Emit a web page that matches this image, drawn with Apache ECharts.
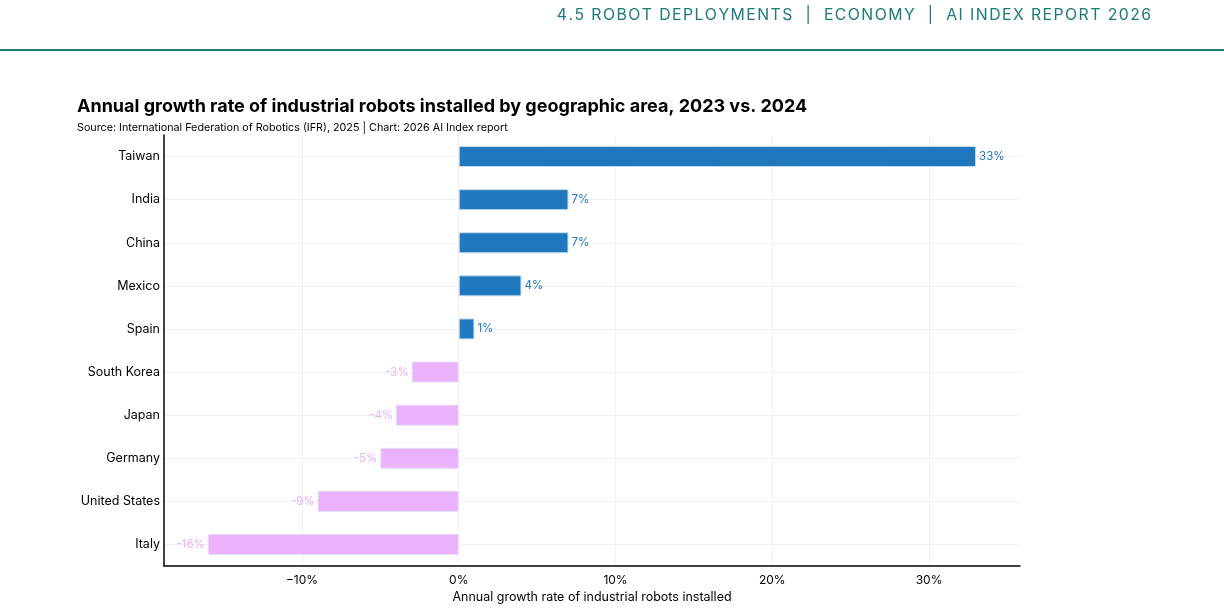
<!DOCTYPE html>
<html>
<head>
    <meta charset="utf-8">
    <title>Annual growth rate of industrial robots</title>
    <script src="https://cdn.jsdelivr.net/npm/echarts@6/dist/echarts.min.js"></script>
    <style>
        html, body { margin: 0; padding: 0; background: #fff; }
        #chart { width: 1224px; height: 609px; }
    </style>
</head>
<body>
<div id="chart"></div>
<script type="text/javascript">
    // categories, bottom to top (category axis starts at the bottom)
    var countries = ['Italy', 'United States', 'Germany', 'Japan', 'South Korea', 'Spain', 'Mexico', 'China', 'India', 'Taiwan'];
    var growth = [-16, -9, -5, -4, -3, 1, 4, 7, 7, 33];
    var xTicks = [-10, 0, 10, 20, 30];

    var blue = '#1f77bd';
    var pink = '#ebb2fb';

    var myChart = echarts.init(document.getElementById('chart'));
    var font = 'Inter, "Noto Sans", sans-serif';

    // header letter spacing: hair spaces between characters
    var header = '4.5 ROBOT DEPLOYMENTS  |  ECONOMY  |  AI INDEX REPORT 2026'.split('').join('\u200A');

    myChart.setOption({
        animation: false,
        textStyle: { fontFamily: font },
        title: [{
            text: header,
            right: 68, top: 2,
            textStyle: { color: '#1c7a78', fontSize: 15.8, fontWeight: 'normal', fontFamily: font }
        }, {
            text: 'Annual growth rate of industrial robots installed by geographic area, 2023 vs. 2024',
            left: 72, top: 93,
            textStyle: { color: '#000', fontSize: 18, fontWeight: 'bold', fontFamily: font }
        }, {
            text: 'Source: International Federation of Robotics (IFR), 2025 | Chart: 2026 AI Index report',
            left: 72, top: 117,
            textStyle: { color: '#000', fontSize: 10.75, fontWeight: 'normal', fontFamily: font }
        }],
        graphic: [{
            type: 'rect',
            shape: { x: 0, y: 49, width: 1224, height: 2 },
            style: { fill: '#1c7a78' }
        }],
        grid: { left: 164, right: 204, top: 135, bottom: 43 },
        xAxis: {
            type: 'value',
            min: -18.8,
            max: 35.8,
            name: 'Annual growth rate of industrial robots installed',
            nameLocation: 'middle',
            nameGap: 24,
            nameTextStyle: { color: '#000', fontSize: 12.5 },
            axisLine: { show: true, onZero: false, lineStyle: { color: '#000', width: 1.5 } },
            axisTick: { show: false, customValues: xTicks },
            axisLabel: {
                color: '#000', fontSize: 12, margin: 8,
                customValues: xTicks,
                formatter: function (v) { return (v < 0 ? '\u2212' + Math.abs(v) : v) + '%'; }
            },
            splitLine: { show: true, lineStyle: { color: '#f0f0f0' } }
        },
        yAxis: {
            type: 'category',
            data: countries,
            axisLine: { show: true, onZero: false, lineStyle: { color: '#000', width: 1.5 } },
            axisTick: { show: false },
            axisLabel: { color: '#000', fontSize: 12.5, margin: 4 },
            splitLine: { show: false }
        },
        series: [{
            type: 'bar',
            barWidth: 21,
            data: growth.map(function (v) {
                var c = v < 0 ? pink : blue;
                return {
                    value: v,
                    itemStyle: { color: c, borderColor: v < 0 ? '#e4ddf8' : '#c6dcee', borderWidth: 1 },
                    label: {
                        show: true,
                        position: v < 0 ? 'left' : 'right',
                        distance: 3,
                        color: c,
                        fontSize: 11.5,
                        formatter: v + '%'
                    }
                };
            }),
            markLine: {
                silent: true,
                symbol: 'none',
                label: { show: false },
                lineStyle: { color: '#f0f0f0', type: 'solid', width: 1 },
                data: countries.map(function (c) { return { yAxis: c }; }),
                z: 0
            },
            z: 2
        }]
    });
</script>
</body>
</html>
